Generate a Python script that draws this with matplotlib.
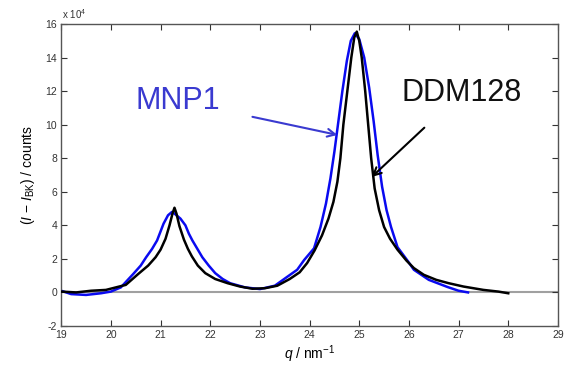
import matplotlib
matplotlib.use("Agg")
import matplotlib.pyplot as plt

plt.rcParams["font.family"] = ["Liberation Sans", "DejaVu Sans"]
plt.rcParams["mathtext.fontset"] = "custom"
plt.rcParams["mathtext.rm"] = "Liberation Sans"
plt.rcParams["mathtext.it"] = "Liberation Sans:italic"
plt.rcParams["axes.unicode_minus"] = False

# DDM128 (black), intensity in units of 1e4 counts
q_ddm = [19.0, 19.3, 19.6, 19.9, 20.1, 20.3, 20.55, 20.75, 20.9, 21.0, 21.1, 21.18,
         21.24, 21.28, 21.32, 21.38, 21.47, 21.55, 21.63, 21.75, 21.9, 22.1, 22.35,
         22.6, 22.85, 23.1, 23.35, 23.6, 23.8, 23.95, 24.1, 24.25, 24.38, 24.48,
         24.56, 24.62, 24.68, 24.76, 24.84, 24.9, 24.95, 25.0, 25.05, 25.12, 25.18,
         25.24, 25.31, 25.4, 25.5, 25.62, 25.77, 25.95, 26.1, 26.3, 26.55, 26.8,
         27.1, 27.5, 27.8, 28.0]
i_ddm = [0.05, 0.0, 0.1, 0.15, 0.3, 0.45, 1.1, 1.6, 2.1, 2.55, 3.2, 4.0,
         4.7, 5.05, 4.7, 3.95, 3.15, 2.6, 2.15, 1.6, 1.15, 0.8, 0.55,
         0.35, 0.22, 0.25, 0.4, 0.8, 1.2, 1.75, 2.5, 3.4, 4.4, 5.4,
         6.6, 8.0, 10.0, 12.0, 14.0, 15.2, 15.55, 15.0, 14.0, 12.0, 10.0,
         8.0, 6.2, 4.9, 3.9, 3.2, 2.55, 1.9, 1.45, 1.05, 0.75, 0.55,
         0.35, 0.15, 0.05, -0.05]

# MNP1 (blue)
q_mnp = [19.0, 19.2, 19.5, 19.8, 20.0, 20.2, 20.45, 20.6, 20.71, 20.83, 20.93, 21.06,
         21.15, 21.23, 21.3, 21.4, 21.5, 21.57, 21.64, 21.74, 21.84, 21.97, 22.1,
         22.25, 22.4, 22.7, 23.0, 23.3, 23.55, 23.75, 23.89, 24.09, 24.22, 24.33,
         24.42, 24.5, 24.58, 24.66, 24.75, 24.83, 24.91, 25.0, 25.1, 25.2, 25.29,
         25.37, 25.46, 25.55, 25.64, 25.77, 25.97, 26.1, 26.4, 26.78, 27.0, 27.19]
i_mnp = [0.1, -0.1, -0.15, -0.05, 0.05, 0.3, 1.1, 1.6, 2.1, 2.6, 3.1, 4.1,
         4.6, 4.8, 4.65, 4.4, 4.0, 3.5, 3.1, 2.6, 2.1, 1.6, 1.15,
         0.8, 0.55, 0.3, 0.2, 0.4, 0.93, 1.35, 1.93, 2.63, 3.9, 5.3,
         6.8, 8.4, 10.2, 12.0, 13.8, 15.0, 15.45, 15.1, 14.0, 12.2, 10.2,
         8.2, 6.3, 4.9, 3.9, 2.7, 1.9, 1.35, 0.75, 0.32, 0.1, 0.0]

x_ticks = list(range(19, 30))
y_ticks = list(range(-2, 17, 2))

fig = plt.figure(figsize=(5.67, 3.70), dpi=100)
ax = fig.add_axes([0.108, 0.119, 0.876, 0.816])

ax.axhline(0, color="#a0a0a0", lw=1.5, zorder=1)
ax.plot(q_ddm, i_ddm, color="black", lw=1.8, zorder=3)
ax.plot(q_mnp, i_mnp, color="#0a0af0", lw=1.8, zorder=2)

ax.set_xlim(19, 29)
ax.set_ylim(-2, 16)
ax.set_xticks(x_ticks)
ax.set_yticks(y_ticks)
ax.tick_params(direction="in", top=True, right=True, length=4, width=0.8,
               labelsize=7.5, colors="#333333", pad=3)
for s in ax.spines.values():
    s.set_color("#555555")
    s.set_linewidth(1.0)

ax.set_xlabel(r"$q$ / nm$^{-1}$", fontsize=10, labelpad=2)
ax.set_ylabel(r"$(I$ $-$ $I_{\rm BK})$ / counts", fontsize=10, labelpad=6)
fig.text(0.109, 0.948, r"x 10$^4$", fontsize=7, color="#333333")

ax.annotate("MNP1", xy=(24.56, 9.39), xytext=(21.34, 11.42), color="#3a3ad0",
            fontsize=22, ha="center", va="center",
            arrowprops=dict(arrowstyle="->", color="#3a3ad0", lw=1.5,
                            shrinkA=22, shrinkB=0, mutation_scale=14))
ax.annotate("DDM128", xy=(25.25, 6.88), xytext=(27.06, 11.9), color="#111111",
            fontsize=22, ha="center", va="center",
            arrowprops=dict(arrowstyle="->", color="black", lw=1.5,
                            shrinkA=18, shrinkB=0, mutation_scale=14))

fig.savefig("out.png", dpi=100)
